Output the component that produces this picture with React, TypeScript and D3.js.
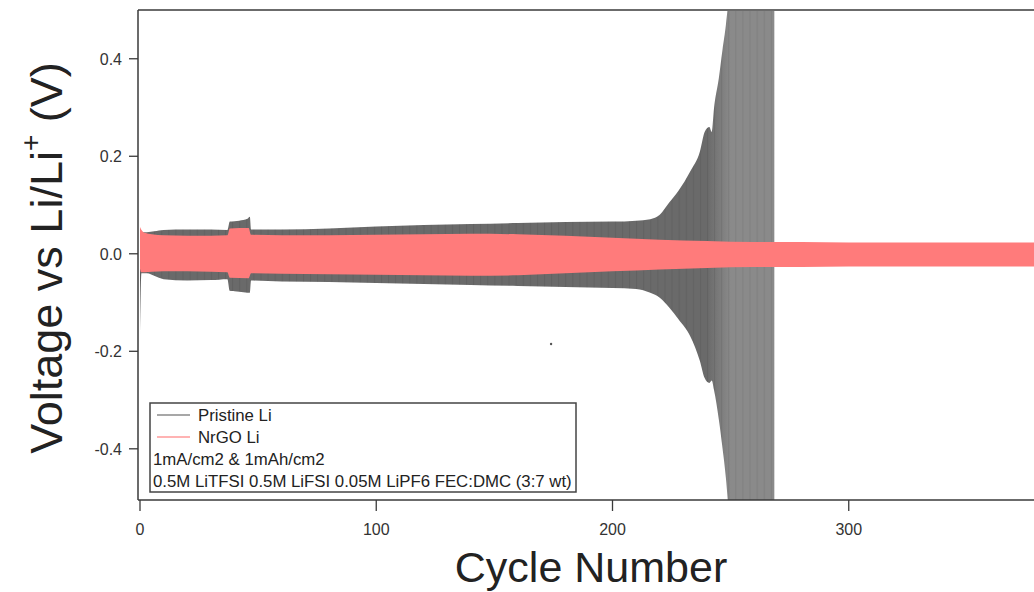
import React from 'react';
import * as d3 from 'd3';

// ---- data ----
const xTicks = [0, 100, 200, 300];
const yTicks = [-0.4, -0.2, 0.0, 0.2, 0.4];

const pristineCycles = [0, 0.6, 3, 6, 10, 20, 30, 37, 38, 42, 45.5, 46.5, 47, 60, 80, 100, 120, 140, 160, 180, 200, 210, 216, 220, 224, 228, 233, 237, 239, 241, 242, 243, 245, 246.6, 248, 249, 250, 268.5];
const pristineUpper = [0.045, 0.044, 0.044, 0.046, 0.049, 0.05, 0.05, 0.049, 0.066, 0.068, 0.072, 0.076, 0.05, 0.05, 0.052, 0.056, 0.059, 0.061, 0.063, 0.065, 0.066, 0.068, 0.071, 0.08, 0.105, 0.13, 0.17, 0.21, 0.25, 0.26, 0.25, 0.3, 0.36, 0.42, 0.47, 0.52, 0.6, 0.6];
const pristineLower = [-0.17, -0.04, -0.04, -0.045, -0.052, -0.055, -0.054, -0.052, -0.076, -0.078, -0.08, -0.08, -0.055, -0.057, -0.058, -0.06, -0.062, -0.064, -0.066, -0.068, -0.07, -0.072, -0.08, -0.09, -0.11, -0.135, -0.17, -0.22, -0.255, -0.265, -0.26, -0.28, -0.34, -0.4, -0.46, -0.52, -0.6, -0.6];

const nrgoCycles = [0, 0.5, 2, 5, 10, 20, 30, 37, 38, 46, 47, 60, 80, 100, 120, 140, 160, 180, 200, 220, 240, 260, 280, 300, 340, 380];
const nrgoUpper = [0.055, 0.05, 0.043, 0.04, 0.038, 0.037, 0.037, 0.038, 0.052, 0.053, 0.039, 0.038, 0.038, 0.039, 0.04, 0.041, 0.04, 0.037, 0.033, 0.029, 0.026, 0.024, 0.024, 0.023, 0.023, 0.023];
const nrgoLower = [-0.03, -0.038, -0.038, -0.037, -0.036, -0.036, -0.037, -0.038, -0.049, -0.05, -0.04, -0.041, -0.042, -0.043, -0.044, -0.045, -0.044, -0.04, -0.036, -0.032, -0.029, -0.027, -0.027, -0.026, -0.026, -0.026];

const strayCycles = [174];
const strayVolts = [-0.185];

const legendSeries = ['Pristine Li', 'NrGO Li'];
const legendNotes = ['1mA/cm2 & 1mAh/cm2', '0.5M LiTFSI 0.5M LiFSI 0.05M LiPF6 FEC:DMC (3:7 wt)'];

// ---- layout ----
const W = 1034;
const H = 592;
const left = 138;
const top = 10;
const bottom = 500;
const right = 1040;
const FONT = '"Liberation Sans", Arial, Helvetica, sans-serif';

const GRAY = '#6a6a6a';
const GRAY_LIGHT = '#8a8a8a';
const PINK = '#ff7b7b';
const AXIS = '#3a3a3a';

export default function App() {
  const x = d3.scaleLinear().domain([0, 380]).range([140, 140 + 380 * 2.3625]);
  const y = d3.scaleLinear().domain([-0.505, 0.5]).range([bottom, top]);

  const pristine = pristineCycles.map((c, i) => ({ c, hi: pristineUpper[i], lo: pristineLower[i] }));
  const nrgo = nrgoCycles.map((c, i) => ({ c, hi: nrgoUpper[i], lo: nrgoLower[i] }));

  const area = d3
    .area<{ c: number; hi: number; lo: number }>()
    .x((d) => x(d.c))
    .y0((d) => y(d.lo))
    .y1((d) => y(d.hi))
    .curve(d3.curveMonotoneX);

  const legendLineColors = [GRAY_LIGHT, '#ff9a9a'];

  return (
    <svg
      width={W}
      height={H}
      style={{ position: 'absolute', left: 0, top: 0, background: '#fff' }}
      fontFamily={FONT}
    >
      <defs>
        <clipPath id="plotClip">
          <rect x={left + 1} y={top + 1} width={right - left} height={bottom - top - 1} />
        </clipPath>
        <linearGradient id="grayGrad" gradientUnits="userSpaceOnUse" x1={x(240)} x2={x(250)} y1={0} y2={0}>
          <stop offset="0" stopColor={GRAY} />
          <stop offset="1" stopColor={GRAY_LIGHT} />
        </linearGradient>
        <pattern id="stripes" patternUnits="userSpaceOnUse" width={x(3) - x(0)} height={10} x={x(0)}>
          <rect x={0} y={0} width={1} height={10} fill="#000" opacity={0.08} />
        </pattern>
      </defs>

      <rect width={W} height={H} fill="#fff" />

      <g clipPath="url(#plotClip)">
        <path d={area(pristine) || ''} fill="url(#grayGrad)" />
        <path d={area(pristine) || ''} fill="url(#stripes)" />
        <path d={area(nrgo) || ''} fill={PINK} />
        {strayCycles.map((c, i) => (
          <circle key={i} cx={x(c)} cy={y(strayVolts[i])} r={1.2} fill="#555" />
        ))}
      </g>

      {/* frame */}
      <line x1={left} x2={left} y1={top} y2={bottom} stroke={AXIS} strokeWidth={1.5} />
      <line x1={left} x2={right} y1={top} y2={top} stroke={AXIS} strokeWidth={1.5} />
      <line x1={left} x2={right} y1={bottom} y2={bottom} stroke={AXIS} strokeWidth={1.5} />

      {/* y ticks */}
      {yTicks.map((t) => (
        <g key={t}>
          <line x1={left - 9} x2={left} y1={y(t)} y2={y(t)} stroke={AXIS} strokeWidth={1.3} />
          <text x={left - 16} y={y(t)} dy="0.36em" textAnchor="end" fontSize={16} fill="#333">
            {d3.format('.1f')(t).replace('−', '-')}
          </text>
        </g>
      ))}

      {/* x ticks */}
      {xTicks.map((t) => (
        <g key={t}>
          <line x1={x(t)} x2={x(t)} y1={bottom} y2={bottom + 11} stroke={AXIS} strokeWidth={1.3} />
          <text x={x(t)} y={bottom + 35} textAnchor="middle" fontSize={16} fill="#333">
            {t}
          </text>
        </g>
      ))}

      {/* axis titles */}
      <text x={591} y={582} textAnchor="middle" fontSize={43} fill="#222">
        Cycle Number
      </text>
      <text transform={`translate(62, 258) rotate(-90)`} textAnchor="middle" fontSize={45} fill="#222">
        Voltage vs Li/Li
        <tspan fontSize={28} dy={-22}>+</tspan>
        <tspan dy={22}> (V)</tspan>
      </text>

      {/* legend */}
      <rect x={150} y={403} width={426} height={89} fill="#fff" stroke="#444" strokeWidth={1.5} />
      {legendSeries.map((s, i) => (
        <g key={s}>
          <line x1={157} x2={190} y1={415 + i * 22} y2={415 + i * 22} stroke={legendLineColors[i]} strokeWidth={1.5} />
          <text x={198} y={421 + i * 22} fontSize={16.8} fill="#222">
            {s}
          </text>
        </g>
      ))}
      {legendNotes.map((s, i) => (
        <text key={s} x={153} y={465 + i * 22} fontSize={16.8} fill="#222">
          {s}
        </text>
      ))}
    </svg>
  );
}
